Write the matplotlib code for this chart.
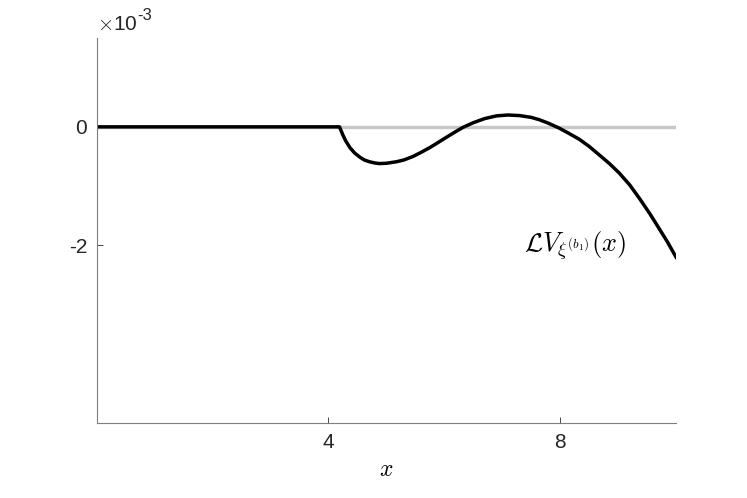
import matplotlib
matplotlib.use('Agg')
import matplotlib.pyplot as plt

plt.rcParams['font.family'] = ['Liberation Sans', 'DejaVu Sans']
plt.rcParams['mathtext.fontset'] = 'cm'

# values, y in units of 1e-3
x_vals = [0, 4.19, 4.25, 4.30, 4.37, 4.45, 4.54, 4.62, 4.71, 4.8, 4.88, 5.0, 5.17,
          5.3, 5.46, 5.6, 5.75, 5.9, 6.03, 6.18, 6.32, 6.5, 6.7, 6.9, 7.1, 7.3,
          7.5, 7.64, 7.8, 7.98, 8.15, 8.33, 8.5, 8.67, 8.85, 9.02, 9.2, 9.37,
          9.55, 9.71, 9.85, 10]
y_vals = [0, 0, -0.14, -0.24, -0.35, -0.44, -0.51, -0.56, -0.59, -0.61, -0.62,
          -0.615, -0.59, -0.56, -0.50, -0.43, -0.35, -0.26, -0.18, -0.09, -0.01,
          0.07, 0.14, 0.185, 0.20, 0.19, 0.16, 0.12, 0.06, -0.02, -0.11, -0.21,
          -0.33, -0.47, -0.62, -0.78, -0.98, -1.21, -1.47, -1.72, -1.94, -2.2]
x_ticks = [4, 8]
y_ticks = [-2, 0]

fig = plt.figure(figsize=(7.47, 4.98), dpi=100)
ax = fig.add_axes([0.1295, 0.1506, 0.7755, 0.7731])

ax.plot([0, 10], [0, 0], color='#c8c8c8', linewidth=2.5)
ax.plot(x_vals, y_vals, color='black', linewidth=2.5)

ax.set_xlim(0, 10)
ax.set_ylim(-5, 1.5)
ax.set_xticks(x_ticks)
ax.set_yticks(y_ticks)
ax.set_yticklabels(['-2', '0'])
ax.tick_params(direction='in', length=4, labelsize=15, colors='#262626', width=0.6, pad=7)

for s in ['top', 'right']:
    ax.spines[s].set_visible(False)
for s in ['left', 'bottom']:
    ax.spines[s].set_color('#7f7f7f')
    ax.spines[s].set_linewidth(0.8)

ax.set_xlabel('$x$', fontsize=17, labelpad=5)
ax.text(0.0, 1.01, r'$\times$10', transform=ax.transAxes,
        fontsize=15, color='#262626', ha='left', va='bottom')
ax.text(0.07, 1.04, '-3', transform=ax.transAxes,
        fontsize=12, color='#262626', ha='left', va='bottom')
ax.text(9.15, -2.0, r'$\mathcal{L}V_{\xi^{(b_1)}}(x)$', fontsize=19, ha='right', va='center')

fig.savefig('out.png', dpi=100)
